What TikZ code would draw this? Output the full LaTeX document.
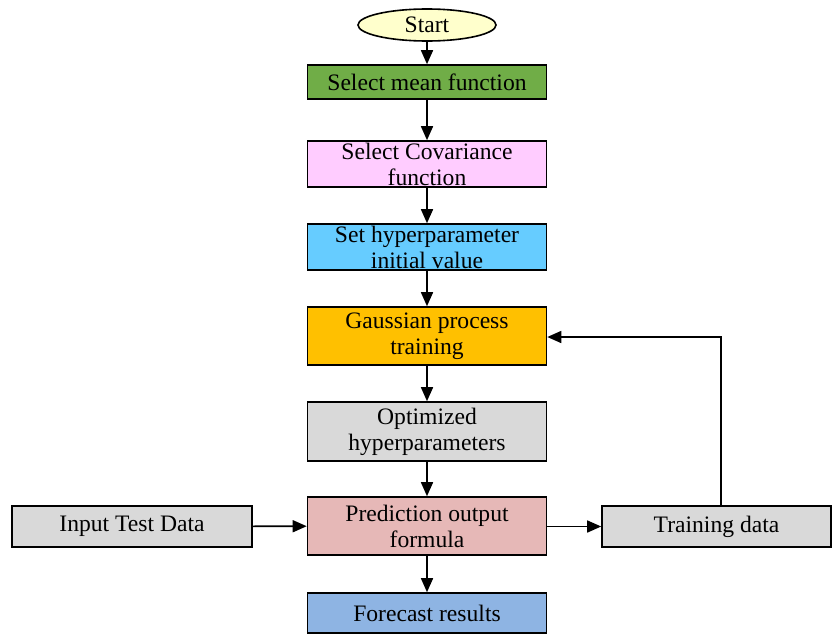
\documentclass[tikz,border=0pt]{standalone}
\usepackage{fontspec}
\setmainfont{Liberation Serif}
\usetikzlibrary{arrows.meta,shapes.geometric}

\definecolor{startfill}{HTML}{FFFFCC}
\definecolor{meanfill}{HTML}{70AD47}
\definecolor{covfill}{HTML}{FFCCFF}
\definecolor{hypfill}{HTML}{66CCFF}
\definecolor{trainfill}{HTML}{FFC000}
\definecolor{greyfill}{HTML}{D9D9D9}
\definecolor{predfill}{HTML}{E6B8B7}
\definecolor{castfill}{HTML}{8EB4E3}

\tikzset{
  box/.style={draw=black, line width=1.6pt, rectangle, minimum width=239pt,
    inner sep=0pt, align=center, font=\fontsize{23.6}{26}\selectfont},
  flow/.style={line width=1.6pt, -{Triangle[length=14pt,width=12pt]}},
}

\begin{document}
\begin{tikzpicture}[x=1pt,y=-1pt]
\useasboundingbox (0,0) rectangle (832,637);

\node[box, ellipse, fill=startfill, minimum width=138pt, minimum height=32pt] (start) at (427,25) {Start};
\node[box, fill=meanfill, minimum height=34pt] (mean) at (427,82) {Select mean function};
\node[box, fill=covfill, minimum height=46pt] (cov) at (427,164) {Select Covariance\\function};
\node[box, fill=hypfill, minimum height=46pt] (hyp) at (427,247) {Set hyperparameter\\initial value};
\node[box, fill=trainfill, minimum height=58pt] (gp) at (427,336) {Gaussian process\\training};
\node[box, fill=greyfill, minimum height=59pt] (opt) at (427,431.5) {Optimized\\hyperparameters};
\node[box, fill=predfill, minimum height=58pt] (pred) at (427,526) {Prediction output\\formula};
\node[box, fill=castfill, minimum height=40pt] (cast) at (427,613) {Forecast results};
\node[box, fill=greyfill, minimum width=240pt, minimum height=41pt] (test) at (132,526.5) {Input Test Data};
\node[box, fill=greyfill, minimum width=229pt, minimum height=41pt] (data) at (716.5,526.5) {Training data};

\draw[flow] (start) -- (mean);
\draw[flow] (mean) -- (cov);
\draw[flow] (cov) -- (hyp);
\draw[flow] (hyp) -- (gp);
\draw[flow] (gp) -- (opt);
\draw[flow] (opt) -- (pred);
\draw[flow] (pred) -- (cast);
\draw[flow] (test) -- (pred);
\draw[flow] (pred.east |- data.west) -- (data.west);
\coordinate (turn) at (721,337);
\draw[flow] (data.north -| turn) -- (turn) -- (gp.east |- turn);
\end{tikzpicture}
\end{document}
